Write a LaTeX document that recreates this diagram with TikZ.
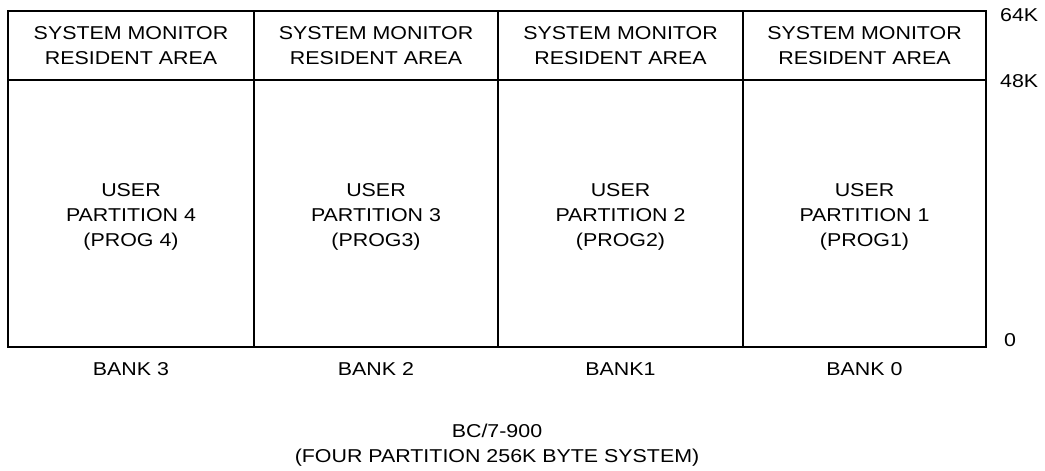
\documentclass[tikz,border=0pt]{standalone}
\usepackage{fontspec}
\setmainfont{Liberation Sans}[FakeStretch=1.15]
\begin{document}
\begin{tikzpicture}[x=1pt,y=-1pt,
  txt/.style={font=\fontsize{18.6}{25}\selectfont},
  box/.style={txt, draw, line width=1.8pt, inner sep=0pt, outer sep=0pt, align=center, anchor=north west},
  hdr/.style={box, minimum height=69pt},
  part/.style={box, minimum height=267pt},
  lbl/.style={txt, inner sep=0pt, align=center}]
\useasboundingbox (0,0) rectangle (1045,471);
% headers (64K..48K)
\node[hdr, minimum width=246pt] (h3) at (8,11)   {SYSTEM MONITOR\\RESIDENT AREA};
\node[hdr, minimum width=244pt] (h2) at (254,11) {SYSTEM MONITOR\\RESIDENT AREA};
\node[hdr, minimum width=245pt] (h1) at (498,11) {SYSTEM MONITOR\\RESIDENT AREA};
\node[hdr, minimum width=243pt] (h0) at (743,11) {SYSTEM MONITOR\\RESIDENT AREA};
% user partitions (48K..0)
\node[part, minimum width=246pt] (p3) at (8,80)   {};
\node[part, minimum width=244pt] (p2) at (254,80) {};
\node[part, minimum width=245pt] (p1) at (498,80) {};
\node[part, minimum width=243pt] (p0) at (743,80) {};
\node[lbl] (u3) at ([yshift=-3pt]p3.center) {USER\\PARTITION 4\\(PROG 4)};
\node[lbl] (u2) at ([yshift=-3pt]p2.center) {USER\\PARTITION 3\\(PROG3)};
\node[lbl] (u1) at ([yshift=-3pt]p1.center) {USER\\PARTITION 2\\(PROG2)};
\node[lbl] (u0) at ([yshift=-3pt]p0.center) {USER\\PARTITION 1\\(PROG1)};
% bank labels
\node[lbl] (b3) at ([yshift=-22pt]p3.south) {BANK 3};
\node[lbl] (b2) at ([yshift=-22pt]p2.south) {BANK 2};
\node[lbl] (b1) at ([yshift=-22pt]p1.south) {BANK1};
\node[lbl] (b0) at ([yshift=-22pt]p0.south) {BANK 0};
% address labels
\node[lbl, anchor=west] (a64) at (1000,15) {64K};
\node[lbl, anchor=west] (a48) at (1000,81) {48K};
\node[lbl, anchor=west] (a0)  at (1004,340) {0};
% caption
\node[lbl] (cap) at (497,445) {BC/7-900\\(FOUR PARTITION 256K BYTE SYSTEM)};
\end{tikzpicture}
\end{document}
